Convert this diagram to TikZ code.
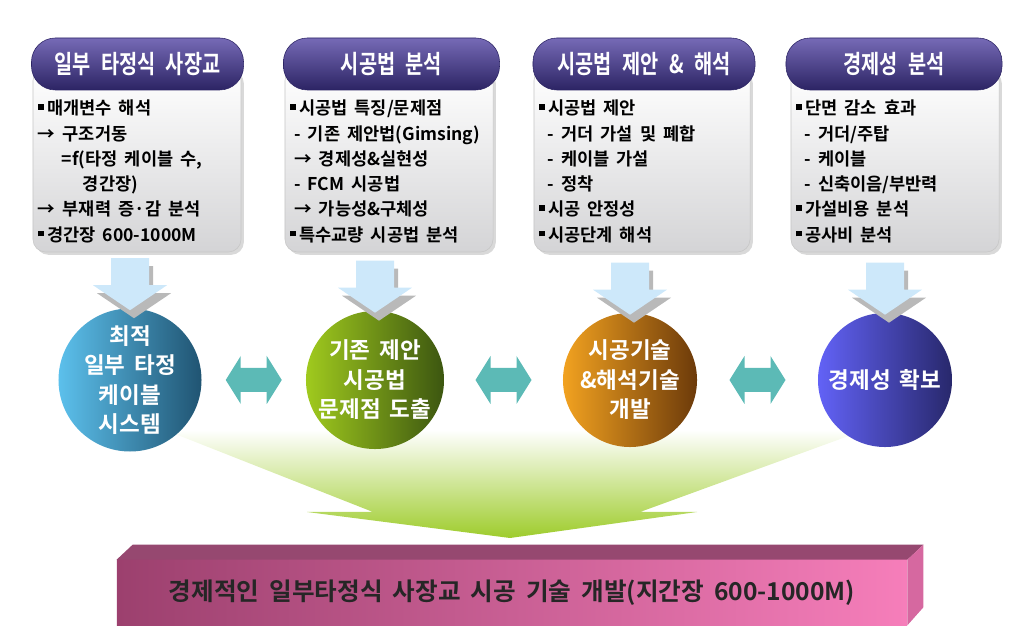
\documentclass[tikz,border=0pt]{standalone}
\usepackage{fontspec}
\setmainfont{Noto Sans CJK KR}[BoldFont=* Bold,WordSpace=1.8]
\newfontfamily\headfont{Noto Sans CJK KR Bold}[FakeStretch=0.78,WordSpace=2.3]
\usetikzlibrary{positioning,calc,shadows}
\definecolor{hdtop}{RGB}{118,106,182}
\definecolor{hdbot}{RGB}{44,36,100}
\definecolor{boxgrey}{RGB}{212,212,214}
\definecolor{arrblue}{RGB}{205,232,250}
\definecolor{teal}{RGB}{92,186,182}
\definecolor{fungreen}{RGB}{158,204,44}
\definecolor{spaa}{RGB}{92,192,236}
\definecolor{spab}{RGB}{32,84,114}
\definecolor{spba}{RGB}{160,202,30}
\definecolor{spbb}{RGB}{60,86,16}
\definecolor{spca}{RGB}{242,162,32}
\definecolor{spcb}{RGB}{108,58,10}
\definecolor{spda}{RGB}{98,98,246}
\definecolor{spdb}{RGB}{40,40,108}
\definecolor{barl}{RGB}{156,64,110}
\definecolor{barr}{RGB}{246,126,186}
\definecolor{bartop}{RGB}{150,72,112}
\definecolor{barside}{RGB}{214,104,160}
\newcommand{\sqb}{\rule[.28em]{.32em}{.32em}\hspace{.2em}}

\begin{document}
\begin{tikzpicture}[x=0.025cm,y=0.025cm,
  hd/.style={rounded corners=17pt,top color=hdtop,bottom color=hdbot,draw=hdbot,
    text=white,minimum height=1.3cm,font=\headfont\fontsize{18}{20}\selectfont},
  bx/.style={rounded corners=9pt,top color=white,bottom color=boxgrey,draw=gray!45,
    minimum width=5.2cm,minimum height=4.6cm,
    drop shadow={shadow xshift=2pt,shadow yshift=-2pt,opacity=.3}},
  bt/.style={anchor=north west,inner sep=0pt,align=left,
    font=\bfseries\fontsize{12.5}{18}\selectfont},
  ball/.style={circle,minimum size=3.35cm,inner sep=0pt,text=white,align=center,
    font=\bfseries\fontsize{16}{21}\selectfont},
  bar/.style={minimum width=19.75cm,minimum height=1.625cm,inner sep=0pt,
    left color=barl,right color=barr,text=black!85,
    font=\bfseries\fontsize{17.5}{20}\selectfont}]

  \useasboundingbox (0,0) rectangle (1036,630);

  % green funnel behind the spheres
  \shade[top color=white,middle color=fungreen!45,bottom color=fungreen]
    (165,200) -- (865,200) -- (640,118) -- (697,118) -- (510,92)
    -- (307,118) -- (373,118) -- cycle;

  % grey boxes and headers
  \node[bx] (bx1) at (137,470) {};
  \node[bx] (bx2) at (389,470) {};
  \node[bx,minimum width=5.4cm] (bx3) at (642,470) {};
  \node[bx] (bx4) at (895,470) {};

  \node[hd,minimum width=5.3cm] (hd1) at (137.5,566) {일부 타정식 사장교};
  \node[hd,minimum width=5.4cm] (hd2) at (391.5,566) {시공법 분석};
  \node[hd,minimum width=5.55cm] (hd3) at (644,566) {시공법 제안 \& 해석};
  \node[hd,minimum width=5.4cm] (hd4) at (894,566) {경제성 분석};

  \node[bt] (tx1) at ($(bx1.north west)+(5,-32)$) {\sqb 매개변수 해석\\
    → 구조거동\\
    \hspace{17pt}=f(타정 케이블 수,\\
    \hspace{32pt}경간장)\\
    → 부재력 증·감 분석\\
    \sqb 경간장 600-1000M};
  \node[bt] (tx2) at ($(bx2.north west)+(5,-32)$) {\sqb 시공법 특징/문제점\\
    \hspace{3pt}- 기존 제안법(Gimsing)\\
    \hspace{3pt}→ 경제성\&실현성\\
    \hspace{3pt}- FCM 시공법\\
    \hspace{3pt}→ 가능성\&구체성\\
    \sqb 특수교량 시공법 분석};
  \node[bt] (tx3) at ($(bx3.north west)+(5,-32)$) {\sqb 시공법 제안\\
    \hspace{6pt}- 거더 가설 및 폐합\\
    \hspace{6pt}- 케이블 가설\\
    \hspace{6pt}- 정착\\
    \sqb 시공 안정성\\
    \sqb 시공단계 해석};
  \node[bt] (tx4) at ($(bx4.north west)+(5,-32)$) {\sqb 단면 감소 효과\\
    \hspace{6pt}- 거더/주탑\\
    \hspace{6pt}- 케이블\\
    \hspace{6pt}- 신축이음/부반력\\
    \sqb 가설비용 분석\\
    \sqb 공사비 분석};

  % spheres
  \node[ball,left color=spaa,right color=spab] (sp1) at (130,250) {최적\\일부 타정\\케이블\\시스템};
  \node[ball,left color=spba,right color=spbb] (sp2) at (375,250) {기존 제안\\시공법\\문제점 도출};
  \node[ball,left color=spca,right color=spcb] (sp3) at (630,250) {시공기술\\\&해석기술\\개발};
  \node[ball,left color=spda,right color=spdb] (sp4) at (885,250) {경제성 확보};

  % block arrows from the boxes down to the spheres
  \foreach \i in {1,...,4} {
    \fill[gray!55] ($(sp\i.north)+(-15,42)$) -- ++(38,0) -- ++(0,-27) -- ++(18,0)
      -- ++(-37,-25) -- ++(-37,25) -- ++(18,0) -- cycle;
    \fill[arrblue] ($(sp\i.north)+(-19,50)$) -- ++(38,0) -- ++(0,-27) -- ++(18,0)
      -- ++(-37,-25) -- ++(-37,25) -- ++(18,0) -- cycle;
  }

  % double arrows between the spheres
  \foreach \i/\j in {1/2,2/3,3/4} {
    \coordinate (m\i) at ($(sp\i.east)!0.5!(sp\j.west)$);
    \fill[teal] ($(m\i)+(-28,0)$) -- ++(15,24) -- ++(0,-12) -- ++(26,0) -- ++(0,12)
      -- ++(15,-24) -- ++(-15,-24) -- ++(0,12) -- ++(-26,0) -- ++(0,-12) -- cycle;
  }

  % bottom bar
  \node[bar] (goal) at (512,37.5) {경제적인 일부타정식 사장교 시공 기술 개발(지간장 600-1000M)};
  \fill[bartop] (goal.north west) -- ++(16,15) -- ($(goal.north east)+(16,15)$)
    -- (goal.north east) -- cycle;
  \fill[barside] (goal.north east) -- ++(16,15) -- ($(goal.south east)+(16,18)$)
    -- (goal.south east) -- cycle;

\end{tikzpicture}
\end{document}
